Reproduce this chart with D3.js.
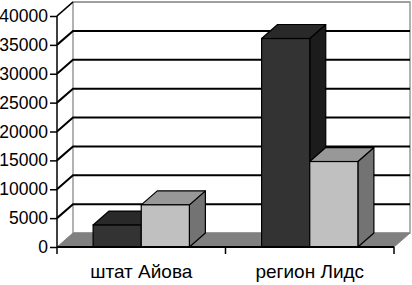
<!DOCTYPE html>
<html>
<head>
<meta charset="utf-8">
<script src="https://d3js.org/d3.v7.min.js"></script>
<style>
  body { margin: 0; background: #fff; }
  svg { display: block; }
</style>
</head>
<body>
<div id="chart"></div>
<script>
// chart data
var categories = ["штат Айова", "регион Лидс"];
var seriesDark = [3800, 36100];
var seriesLight = [7300, 14800];
var yTicks = [0, 5000, 10000, 15000, 20000, 25000, 30000, 35000, 40000];

function init() {
  var w = 412;
  var h = 285;
  var dx = 16;   // depth offset
  var dy = -14;
  var font = "'Liberation Sans', Arial, sans-serif";

  var svg = d3.select("#chart")
    .append("svg")
    .attr("width", w)
    .attr("height", h);

  var yScale = d3.scaleLinear()
    .domain([0, 40000])
    .range([247, 16]);

  var x0 = d3.scaleBand()
    .domain(categories)
    .range([57, 394]);

  var x1 = d3.scaleBand()
    .domain([0, 1])
    .range([0, x0.bandwidth()])
    .paddingInner(0)
    .paddingOuter(0.75);

  var left = x0.range()[0];
  var right = x0.range()[1];
  var y0 = yScale(0);
  var yTop = yScale(40000);

  //back wall
  svg.append("rect")
    .attr("x", left + dx)
    .attr("y", yTop + dy)
    .attr("width", right - left)
    .attr("height", y0 - yTop)
    .attr("fill", "#fff")
    .attr("stroke", "#999")
    .attr("stroke-width", 1.5);

  //gridlines: side wall diagonal + back wall line
  svg.selectAll(".grid")
    .data(yTicks.filter(function (d) { return d > 0; }))
    .enter()
    .append("path")
    .attr("class", "grid")
    .attr("fill", "none")
    .attr("stroke", function (d) { return d === 40000 ? "#999" : "#000"; })
    .attr("stroke-width", function (d) { return d === 40000 ? 1.5 : 2; })
    .attr("d", function (d) {
      var y = yScale(d);
      return "M" + left + "," + y + "L" + (left + dx) + "," + (y + dy) + "L" + (right + dx) + "," + (y + dy);
    });
  // the top diagonal stays black
  svg.append("line")
    .attr("x1", left).attr("y1", yTop)
    .attr("x2", left + dx).attr("y2", yTop + dy)
    .attr("stroke", "#000").attr("stroke-width", 1.5);

  //floor
  svg.append("path")
    .attr("d", "M" + left + "," + y0 + "L" + (left + dx) + "," + (y0 + dy) + "L" + (right + dx) + "," + (y0 + dy) + "L" + right + "," + y0 + "Z")
    .attr("fill", "#808080")
    .attr("stroke", "#808080")
    .attr("stroke-width", 1);

  //bars
  var bars = [];
  categories.forEach(function (c, i) {
    bars.push({ cat: c, s: 0, v: seriesDark[i] });
    bars.push({ cat: c, s: 1, v: seriesLight[i] });
  });
  var fills = [
    { front: "#333333", top: "#292929", side: "#1c1c1c" },
    { front: "#c0c0c0", top: "#989898", side: "#737373" }
  ];

  var g = svg.selectAll(".bar")
    .data(bars)
    .enter()
    .append("g")
    .attr("class", "bar");

  g.append("path")
    .attr("d", function (d) {
      var x = x0(d.cat) + x1(d.s) + x1.bandwidth();
      var y = yScale(d.v);
      return "M" + x + "," + y + "L" + (x + dx) + "," + (y + dy) + "L" + (x + dx) + "," + (y0 + dy) + "L" + x + "," + y0 + "Z";
    })
    .attr("fill", function (d) { return fills[d.s].side; })
    .attr("stroke", "#000")
    .attr("stroke-width", 1.2)
    .attr("stroke-linejoin", "round");

  g.append("path")
    .attr("d", function (d) {
      var x = x0(d.cat) + x1(d.s);
      var bw = x1.bandwidth();
      var y = yScale(d.v);
      return "M" + x + "," + y + "L" + (x + dx) + "," + (y + dy) + "L" + (x + bw + dx) + "," + (y + dy) + "L" + (x + bw) + "," + y + "Z";
    })
    .attr("fill", function (d) { return fills[d.s].top; })
    .attr("stroke", "#000")
    .attr("stroke-width", 1.2)
    .attr("stroke-linejoin", "round");

  g.append("rect")
    .attr("x", function (d) { return x0(d.cat) + x1(d.s); })
    .attr("y", function (d) { return yScale(d.v); })
    .attr("width", x1.bandwidth())
    .attr("height", function (d) { return y0 - yScale(d.v); })
    .attr("fill", function (d) { return fills[d.s].front; })
    .attr("stroke", "#000")
    .attr("stroke-width", 1.2);

  //y axis
  var yAxis = d3.axisLeft(yScale)
    .tickValues(yTicks)
    .tickSize(7)
    .tickPadding(2)
    .tickFormat(d3.format("d"));

  var ya = svg.append("g")
    .attr("transform", "translate(" + left + ",0)")
    .call(yAxis);
  ya.select(".domain").attr("stroke", "#000").attr("stroke-width", 1.5)
    .attr("d", "M0," + yTop + "V" + y0);
  ya.selectAll(".tick line").attr("stroke", "#000").attr("stroke-width", 1.5);
  ya.selectAll(".tick text")
    .attr("fill", "#000")
    .style("font-family", font)
    .style("font-size", "17.5px");

  //x axis
  var xAxis = d3.axisBottom(x0)
    .tickSize(0)
    .tickPadding(18);

  var xa = svg.append("g")
    .attr("transform", "translate(0," + y0 + ")")
    .call(xAxis);
  xa.select(".domain").attr("stroke", "#000").attr("stroke-width", 2)
    .attr("d", "M" + left + ",0H" + right);
  xa.selectAll(".tick text")
    .attr("fill", "#000")
    .style("font-family", font)
    .style("font-size", "19px");

  // category boundary ticks
  xa.selectAll(".bound")
    .data([left, x0(categories[1]), right])
    .enter()
    .append("line")
    .attr("class", "bound")
    .attr("x1", function (d) { return d; })
    .attr("x2", function (d) { return d; })
    .attr("y1", 0)
    .attr("y2", 7)
    .attr("stroke", "#000")
    .attr("stroke-width", 1.5);
}

window.onload = init;
</script>
</body>
</html>
